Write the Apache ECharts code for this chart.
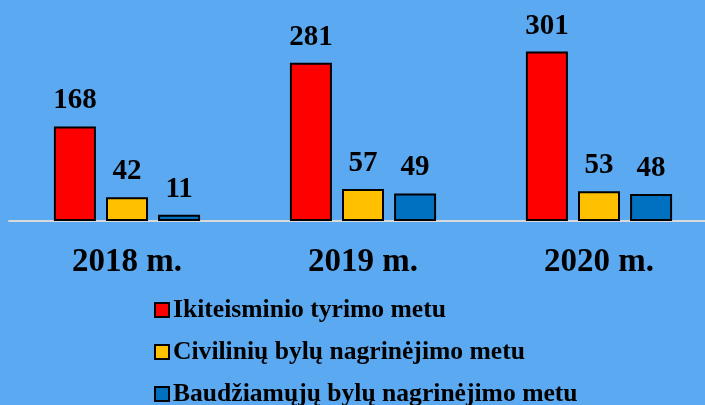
<!DOCTYPE html>
<html>
<head>
<meta charset="utf-8">
<script src="https://cdn.jsdelivr.net/npm/echarts@6/dist/echarts.min.js"></script>
<style>
  html, body { margin: 0; padding: 0; background: #5BA9F1; }
  #chart { width: 705px; height: 405px; }
</style>
</head>
<body>
<div id="chart"></div>
<script>
// Years shown on the category axis
const years = ['2018 m.', '2019 m.', '2020 m.'];

// Case counts per stage
const pretrial = [168, 281, 301];
const civil = [42, 57, 53];
const criminal = [11, 49, 48];

const seriesNames = [
  'Ikiteisminio tyrimo metu',
  'Civilinių bylų nagrinėjimo metu',
  'Baudžiamųjų bylų nagrinėjimo metu'
];
const seriesColors = ['#FF0000', '#FFC000', '#0070C0'];
const seriesData = [pretrial, civil, criminal];

const FONT = '"Liberation Serif", "DejaVu Serif", serif';

const chart = echarts.init(document.getElementById('chart'), null, { renderer: 'canvas' });

chart.setOption({
  backgroundColor: '#5BA9F1',
  animation: false,
  grid: {
    left: 9, width: 708, top: 24, bottom: 184,
    containLabel: false,
    outerBoundsMode: 'none'
  },
  legend: {
    orient: 'vertical',
    left: 149,
    top: 292,
    height: 140,
    itemWidth: 14,
    itemHeight: 14,
    itemGap: 16,
    icon: 'rect',
    selectedMode: false,
    textStyle: {
      fontFamily: FONT,
      fontWeight: 'bold',
      fontSize: 25.6,
      color: '#000',
      padding: [0, 0, 0, -1]
    },
    data: seriesNames
  },
  xAxis: {
    type: 'category',
    data: years,
    axisLine: { show: true, lineStyle: { color: '#D9D9D9', width: 2 } },
    axisTick: { show: false },
    axisLabel: {
      margin: 25,
      fontFamily: FONT,
      fontWeight: 'bold',
      fontSize: 33,
      color: '#000'
    }
  },
  yAxis: {
    type: 'value',
    min: 0,
    max: 350,
    show: false,
    splitLine: { show: false }
  },
  series: seriesNames.map((name, i) => ({
    name: name,
    type: 'bar',
    data: seriesData[i],
    barWidth: 42,
    barGap: '24%',
    itemStyle: {
      color: seriesColors[i],
      borderColor: '#000',
      borderWidth: 2
    },
    label: {
      show: true,
      position: 'top',
      distance: 11,
      fontFamily: FONT,
      fontWeight: 'bold',
      fontSize: 29,
      color: '#000'
    }
  }))
});
</script>
</body>
</html>
